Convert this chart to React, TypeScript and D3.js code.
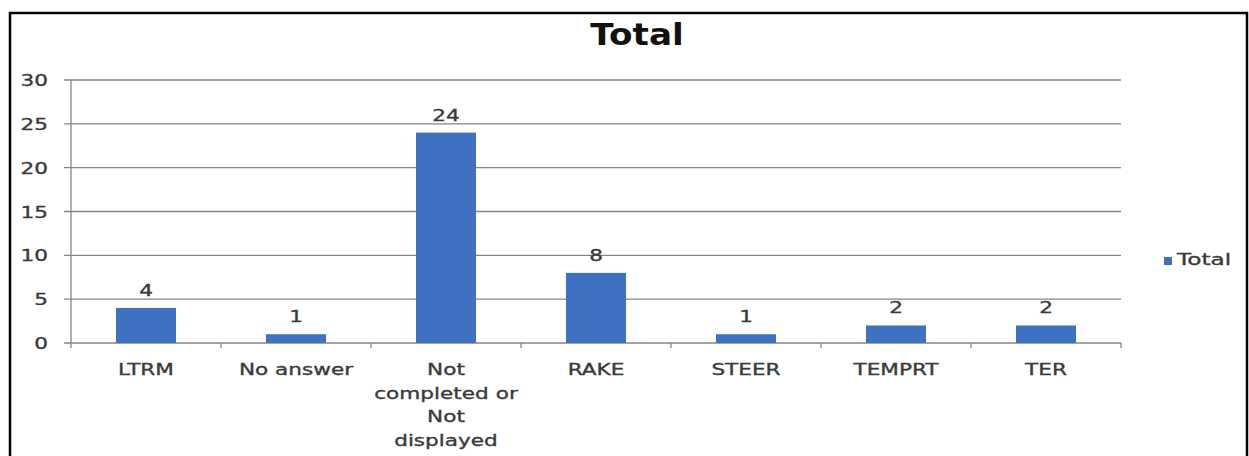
import React from "react";
import * as d3 from "d3";

const categories: string[][] = [
  ["LTRM"],
  ["No answer"],
  ["Not", "completed or", "Not", "displayed"],
  ["RAKE"],
  ["STEER"],
  ["TEMPRT"],
  ["TER"],
];
const values: number[] = [4, 1, 24, 8, 1, 2, 2];
const yTicks: number[] = [0, 5, 10, 15, 20, 25, 30];
const seriesName = "Total";
const title = "Total";

const W = 1249;
const H = 456;
const plot = { left: 71, right: 1121, top: 80, bottom: 343 };
const barColor = "#3F71C2";
const gridColor = "#858585";
const textColor = "#3a3a3a";
const FONT = "'DejaVu Sans', Verdana, sans-serif";
const SX = 1.35;

function SText(props: {
  x: number;
  y: number;
  children: React.ReactNode;
  anchor?: "start" | "middle" | "end";
  size?: number;
  sx?: number;
  weight?: string | number;
  fill?: string;
  stroke?: number;
}) {
  const { x, y, children, anchor = "middle", size = 16, sx = SX, weight = "normal", fill = textColor, stroke = 0.35 } = props;
  return (
    <text
      transform={`translate(${x},${y}) scale(${sx},1)`}
      textAnchor={anchor}
      fontSize={size}
      fontFamily={FONT}
      fontWeight={weight}
      fill={fill}
      stroke={stroke > 0 ? fill : "none"}
      strokeWidth={stroke}
    >
      {children}
    </text>
  );
}

export default function App() {
  const idx = categories.map((_, i) => String(i));
  const x = d3.scaleBand<string>().domain(idx).range([plot.left, plot.right]).paddingInner(0.6).paddingOuter(0.3);
  const y = d3.scaleLinear().domain([0, 30]).range([plot.bottom, plot.top]);
  const step = x.step();
  const boundaries = d3.range(categories.length + 1).map((i) => plot.left + i * step);

  return (
    <svg width={W} height={H} style={{ position: "absolute", left: 0, top: 0, background: "#fff" }}>
      <rect x={0} y={0} width={W} height={H} fill="#fff" />
      {/* frame */}
      <rect x={10} y={13} width={1237} height={460} fill="none" stroke="#000" strokeWidth={2.5} />
      {/* title */}
      <SText x={637} y={45} size={30} sx={1.14} weight="bold" fill="#111" stroke={0}>
        {title}
      </SText>
      {/* gridlines */}
      {yTicks.map((t) => (
        <line key={"g" + t} x1={plot.left - 7} x2={plot.right} y1={y(t)} y2={y(t)} stroke={gridColor} strokeWidth={1.3} />
      ))}
      {/* y axis */}
      <line x1={plot.left} x2={plot.left} y1={plot.top} y2={plot.bottom} stroke={gridColor} strokeWidth={1.3} />
      {yTicks.map((t) => (
        <SText key={"yt" + t} x={48} y={y(t) + 6} anchor="end" size={16}>
          {t}
        </SText>
      ))}
      {/* x axis ticks */}
      {boundaries.map((b, i) => (
        <line key={"xt" + i} x1={b} x2={b} y1={plot.bottom} y2={plot.bottom + 5} stroke={gridColor} strokeWidth={1.3} />
      ))}
      {/* bars */}
      {values.map((v, i) => (
        <rect
          key={"b" + i}
          x={x(String(i))!}
          y={y(v)}
          width={x.bandwidth()}
          height={y(0) - y(v)}
          fill={barColor}
        />
      ))}
      {/* value labels */}
      {values.map((v, i) => (
        <SText key={"v" + i} x={x(String(i))! + x.bandwidth() / 2} y={y(v) - 12} size={16}>
          {v}
        </SText>
      ))}
      {/* category labels */}
      {categories.map((lines, i) =>
        lines.map((ln, j) => (
          <SText key={"c" + i + "-" + j} x={x(String(i))! + x.bandwidth() / 2} y={375 + j * 23.5} size={16}>
            {ln}
          </SText>
        ))
      )}
      {/* legend */}
      <rect x={1164} y={257} width={8} height={8} fill={barColor} />
      <SText x={1177} y={265} anchor="start" size={16} sx={1.45}>
        {seriesName}
      </SText>
    </svg>
  );
}
